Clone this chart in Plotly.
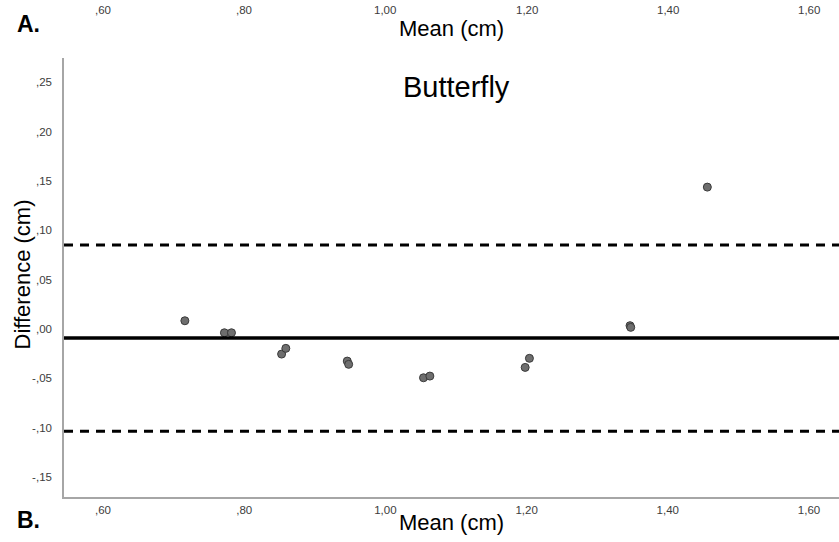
import plotly.graph_objects as go

# ---- data ----
mean_cm = [0.716, 0.772, 0.782, 0.853, 0.859, 0.946, 0.948, 1.054, 1.063,
           1.198, 1.204, 1.3465, 1.3475, 1.456]
diff_cm = [0.0084, -0.0038, -0.0038, -0.0254, -0.0196, -0.0325, -0.0358,
           -0.0494, -0.0477, -0.0389, -0.0297, 0.0034, 0.0017, 0.1439]
bias = -0.0090
upper_loa = 0.0853
lower_loa = -0.1036

x_tickvals = [0.6, 0.8, 1.0, 1.2, 1.4, 1.6]
x_ticktext = [",60", ",80", "1,00", "1,20", "1,40", "1,60"]
y_tickvals = [-0.15, -0.10, -0.05, 0.0, 0.05, 0.10, 0.15, 0.20, 0.25]
y_ticktext = ["-,15", "-,10", "-,05", ",00", ",05", ",10", ",15", ",20", ",25"]

TICKFONT = dict(family="Liberation Sans Narrow, Liberation Sans, Arial", size=11.5, color="#3c3c3c")
FONT = "Liberation Sans, Arial"
PH = 439.0  # plot height in px
PW = 775.0  # plot width in px

fig = go.Figure()
fig.add_trace(go.Scatter(
    x=mean_cm, y=diff_cm, mode="markers",
    marker=dict(size=8, color="#6e6e6e", line=dict(color="#3a3a3a", width=1)),
    showlegend=False, hoverinfo="x+y"))

fig.add_hline(y=bias, line=dict(color="black", width=3.5))
fig.add_hline(y=upper_loa, line=dict(color="black", width=3, dash="9px,7px"))
fig.add_hline(y=lower_loa, line=dict(color="black", width=3, dash="9px,7px"))

# top-row tick labels and title from panel A (same scale)
for v, t in zip(x_tickvals, x_ticktext):
    fig.add_annotation(x=v, xref="x", y=1 + 48 / PH, yref="paper",
                       text=t, showarrow=False, font=TICKFONT, yanchor="middle")
fig.add_annotation(x=0.5, xref="paper", y=1 + 30 / PH, yref="paper",
                   text="Mean (cm)", showarrow=False,
                   font=dict(family=FONT, size=22, color="black"), yanchor="middle")
fig.add_annotation(x=-39 / PW, xref="paper", y=1 + 34 / PH, yref="paper",
                   text="<b>A.</b>", showarrow=False, xshift=-10,
                   font=dict(family=FONT, size=23, color="black"), yanchor="middle")
fig.add_annotation(x=-39 / PW, xref="paper", y=-23 / PH, yref="paper",
                   text="<b>B.</b>", showarrow=False, xshift=-10,
                   font=dict(family=FONT, size=23, color="black"), yanchor="middle")
fig.add_annotation(x=-42 / PW, xref="paper", y=0.5 + 3 / PH, yref="paper",
                   text="Difference (cm)", textangle=-90, showarrow=False,
                   font=dict(family=FONT, size=22, color="black"),
                   xanchor="center", yanchor="middle")
fig.add_annotation(x=1.0, xref="x", y=0.245, yref="y", text="Butterfly",
                   showarrow=False, font=dict(family=FONT, size=29, color="black"),
                   xanchor="center", yanchor="middle", xshift=71)

fig.update_layout(
    width=839, height=542,
    margin=dict(l=64, r=0, t=58, b=45),
    paper_bgcolor="white", plot_bgcolor="white",
    xaxis=dict(range=[0.5448, 1.6425], tickvals=x_tickvals, ticktext=x_ticktext,
               showgrid=False, zeroline=False, showline=True, linecolor="#a6a6a6",
               linewidth=1.5, ticks="", tickfont=TICKFONT, ticklabelstandoff=1,
               title=dict(text="Mean (cm)", font=dict(family=FONT, size=22, color="black"),
                          standoff=0)),
    yaxis=dict(range=[-0.1703, 0.2748], tickvals=y_tickvals, ticktext=y_ticktext,
               showgrid=False, zeroline=False, showline=True, linecolor="#a6a6a6",
               linewidth=1.5, ticks="", tickfont=TICKFONT, ticklabelstandoff=8),
)

fig.write_html("out.html")
